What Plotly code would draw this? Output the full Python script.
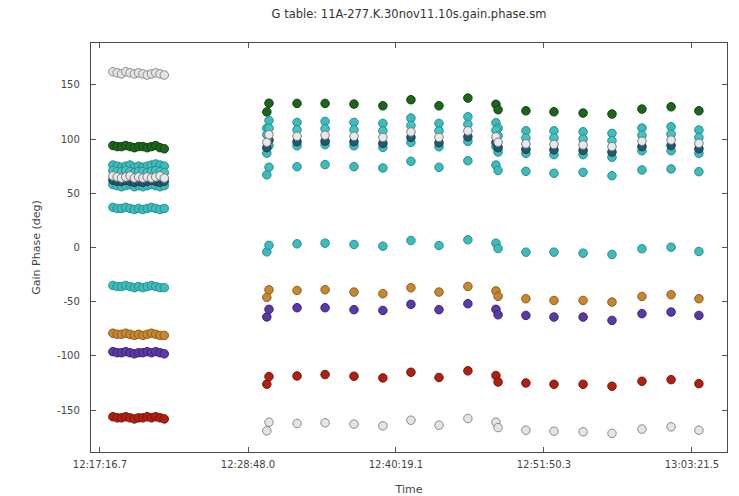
import plotly.graph_objects as go

# ---------------- data ----------------
title_text = "G table: 11A-277.K.30nov11.10s.gain.phase.sm"

left_times = ["12:18:17", "12:18:37", "12:18:57", "12:19:17", "12:19:37", "12:19:57", "12:20:17",
              "12:20:37", "12:20:57", "12:21:17", "12:21:37", "12:21:57", "12:22:17"]
right_times = ["12:30:16", "12:30:26", "12:32:37", "12:34:48", "12:37:03", "12:39:18", "12:41:29",
               "12:43:40", "12:45:55", "12:48:06", "12:48:16", "12:50:26", "12:52:37", "12:54:53",
               "12:57:08", "12:59:28", "13:01:44", "13:03:54"]

x_tick_labels = ["12:17:16.7", "12:28:48.0", "12:40:19.1", "12:51:50.3", "13:03:21.5"]
y_tick_values = [-150, -100, -50, 0, 50, 100, 150]

gray_left = [162, 161, 160, 162, 161, 160, 161, 160, 159, 160, 161, 160, 159]
gray_right = [-169, -161, -162.2, -161.6, -162.8, -164.4, -159.2, -163.8, -157.6, -161, -166,
              -168.4, -169.3, -169.9, -171.4, -167.4, -165.3, -168.4]

green_left = [94, 93, 93, 94, 93, 92, 93, 93, 92, 93, 94, 92, 91]
green_right = [125, 133, 132.8, 132.8, 132.2, 130.6, 136.2, 130.6, 137.7, 132, 127,
               126, 125.1, 123.9, 123, 127.6, 129.7, 126]

cyanA_left = [76, 75, 74, 75, 76, 74, 75, 74, 75, 76, 77, 76, 75]
cyanA_right = [110, 117, 115.3, 116.2, 115.3, 114.4, 119.3, 114.4, 120.5, 115, 110,
               107.6, 107.6, 106.7, 105.2, 110.1, 111.3, 108.3]

cyanB_left = [71, 70, 70, 71, 70, 69, 70, 70, 69, 70, 71, 70, 69]
cyanB_right = [104, 110, 108.5, 109.5, 108.5, 107.5, 112.5, 107.5, 113.5, 108, 103,
               101, 101, 100, 98.5, 103.5, 104.5, 101.5]

white_left = [66, 65, 64, 65, 66, 64, 65, 64, 65, 64, 65, 66, 64]
white_right = [97, 104, 102.5, 103.5, 102.5, 101.5, 106.5, 101.5, 107.5, 102, 97,
               95.5, 95, 94.5, 93, 98, 99, 96]

teal_left = [62, 61, 61, 62, 61, 60, 61, 60, 61, 62, 61, 60, 61]
teal_right = [92, 99, 97.5, 98, 97.5, 96, 101.5, 96.5, 102, 97, 92,
              90.5, 90, 89.5, 88, 93, 94, 91]

cyanC_left = [58, 57, 56, 57, 58, 56, 57, 56, 57, 58, 57, 56, 57]
cyanC_right = [87, 94, 93.8, 94.8, 93.8, 92.3, 96.9, 92.9, 97.8, 93, 88,
               86.8, 85.6, 85.6, 83.1, 89.2, 89.2, 86.8]

cyanD_left = [37, 36, 36, 37, 36, 35, 36, 35, 36, 37, 36, 35, 36]
cyanD_right = [67, 74, 74.5, 76.4, 74.5, 73.3, 79.4, 73.9, 80, 76, 71,
               70.2, 68.4, 69.3, 66.2, 71.5, 72.4, 69.9]

cyanE_left = [-35, -36, -36, -35, -36, -37, -36, -37, -36, -35, -36, -37, -37]
cyanE_right = [-4, 2, 3.4, 4, 2.8, 1.2, 6.4, 1.8, 7.1, 4, -1,
               -4.3, -4.3, -5.2, -6.4, -1.2, 0.3, -3.7]

orange_left = [-79, -80, -80, -79, -80, -81, -80, -81, -80, -79, -80, -81, -81]
orange_right = [-46, -39, -39.6, -38.9, -41.1, -42.6, -37.1, -41.1, -35.9, -40, -45,
                -47.2, -48.8, -48.8, -50.3, -45.1, -43.5, -47.2]

purple_left = [-96, -97, -97, -96, -97, -98, -97, -97, -96, -97, -96, -97, -98]
purple_right = [-64, -57, -55.5, -55.5, -57.3, -58, -52.4, -57.3, -51.8, -57, -62,
                -62.6, -64.1, -64.1, -67.2, -61, -59.5, -62.6]

red_left = [-156, -157, -157, -156, -157, -158, -157, -157, -156, -157, -156, -157, -158]
red_right = [-126, -119, -118.4, -117.1, -118.7, -120.2, -115, -119.8, -113.7, -118, -124,
             -124.9, -126.1, -126.1, -127.9, -123.3, -121.8, -125.5]


def to_sec(s):
    parts = s.split(":")
    return int(parts[0]) * 3600 + int(parts[1]) * 60 + float(parts[2])


all_times = [to_sec(t) for t in left_times + right_times]
x_tick_vals = [to_sec(t) for t in x_tick_labels]

series = [
    ("gray", gray_left + gray_right, "#e4e4e4", "#8a8a8a"),
    ("green", green_left + green_right, "#1c661c", "#0f400f"),
    ("cyanD", cyanD_left + cyanD_right, "#3cbcbc", "#2a8c8c"),
    ("cyanE", cyanE_left + cyanE_right, "#3cbcbc", "#2a8c8c"),
    ("cyanA", cyanA_left + cyanA_right, "#3cbcbc", "#2a8c8c"),
    ("cyanC", cyanC_left + cyanC_right, "#3cbcbc", "#2a8c8c"),
    ("cyanB", cyanB_left + cyanB_right, "#45c2c2", "#2a8c8c"),
    ("teal", teal_left + teal_right, "#1f5a70", "#163e4e"),
    ("white", white_left + white_right, "#e8e8e8", "#7a7a7a"),
    ("orange", orange_left + orange_right, "#c8862e", "#8e5c1c"),
    ("purple", purple_left + purple_right, "#5b3aa8", "#3b2478"),
    ("red", red_left + red_right, "#b02010", "#7a160a"),
]

fig = go.Figure()
for name, vals, fill, edge in series:
    fig.add_trace(go.Scatter(
        x=all_times, y=vals, mode="markers", name=name,
        marker=dict(size=8.5, color=fill, line=dict(color=edge, width=1)),
        showlegend=False,
    ))

axis_common = dict(
    showline=True, linecolor="#4a4a4a", linewidth=1.4, mirror="ticks",
    ticks="inside", ticklen=5, tickcolor="#555555", showgrid=False, zeroline=False,
    tickfont=dict(family="DejaVu Sans", size=10, color="#444444"),
    automargin=False,
)

fig.update_xaxes(
    range=[44194.7, 47165.2], tickmode="array", tickvals=x_tick_vals, ticktext=x_tick_labels,
    title=dict(text="Time", font=dict(family="DejaVu Sans", size=11, color="#444444"), standoff=19),
    ticklabelstandoff=3,
    **axis_common,
)
fig.update_yaxes(
    range=[-188.5, 188.5], tickmode="array", tickvals=y_tick_values,
    ticktext=[str(v) for v in y_tick_values],
    title=dict(text="Gain Phase (deg)", font=dict(family="DejaVu Sans", size=11, color="#444444"), standoff=14),
    ticklabelstandoff=8,
    **axis_common,
)

fig.update_layout(
    width=739, height=496,
    margin=dict(l=91, r=12, t=43, b=44),
    paper_bgcolor="white", plot_bgcolor="white",
    title=dict(text=title_text, x=409 / 739, xanchor="center", y=1 - 14 / 496, yanchor="middle",
               font=dict(family="DejaVu Sans", size=11.5, color="#333333")),
)

fig.write_html("out.html", config={"displayModeBar": False},
               post_script="document.body.style.margin='0';document.body.style.padding='0';")
